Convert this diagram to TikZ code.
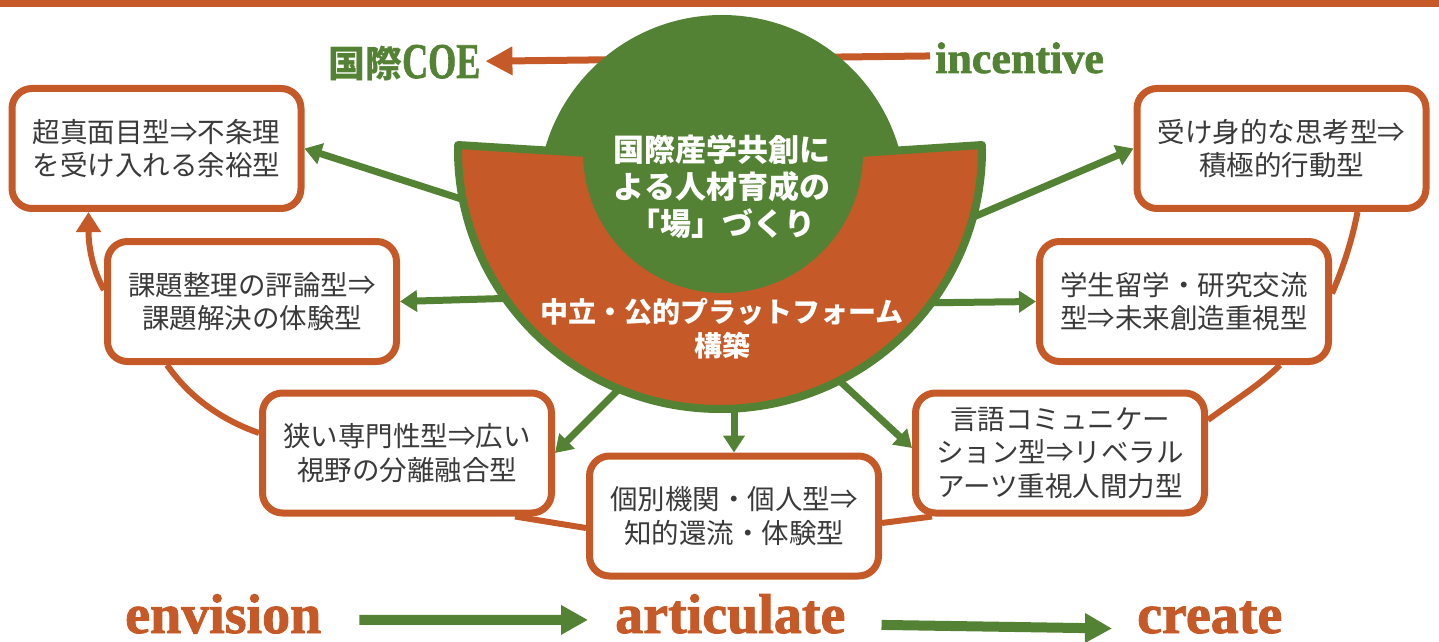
\documentclass[tikz,border=0pt]{standalone}
\usepackage{fontspec}
\newfontfamily\jp{Noto Sans CJK JP}
\newfontfamily\serifb{Liberation Serif}[BoldFeatures={FakeBold=1.6}]
\usetikzlibrary{arrows.meta,calc}
\definecolor{org}{HTML}{C55A28}
\definecolor{grn}{HTML}{548235}
\definecolor{txt}{HTML}{3A3A3A}
\tikzset{
  box/.style={draw=org, line width=7pt, fill=white, rounded corners=20pt,
    minimum width=289pt, minimum height=120pt, inner sep=0pt, align=center,
    text=txt, font=\jp\fontsize{27.5}{33.5}\selectfont},
  garr/.style={draw=grn, line width=7pt, -{Triangle[width=21pt,length=17pt]}},
  oline/.style={draw=org, line width=6pt},
  bigarr/.style={draw=grn, line width=10pt, -{Triangle[width=28pt,length=27pt]}},
  word/.style={anchor=base west, inner sep=0pt, text=org, font=\serifb\bfseries\fontsize{56}{56}\selectfont},
}
\begin{document}
\begin{tikzpicture}[x=1pt,y=1pt]
\useasboundingbox (0,0) rectangle (1439,641);
\fill[org] (0,634) rectangle (1439,641);

% top labels
\node[anchor=base west, inner sep=0pt, text=grn] (coe) at (328,563)
  {{\jp\bfseries\fontsize{37}{37}\selectfont 国際}{\serifb\bfseries\fontsize{50}{50}\selectfont\scalebox{0.72}[1]{COE}}};
\node[anchor=base west, inner sep=0pt, text=grn, font=\serifb\bfseries\fontsize{44}{44}\selectfont] (inc) at (935,568) {incentive};
\draw[org, line width=7pt, -{Triangle[width=27pt,length=27pt]}] ([xshift=-5pt,yshift=2pt]inc.west) -- ([xshift=5pt,yshift=2pt]coe.east);

% boxes
\node[box] (b1) at (156.5,492.5) {超真面目型⇒不条理\\を受け入れる余裕型};
\node[box] (b2) at (1281.5,492.5) {受け身的な思考型⇒\\積極的行動型};
\node[box] (b3) at (252,339.5) {課題整理の評論型⇒\\課題解決の体験型};
\node[box] (b4) at (1184,339.5) {学生留学・研究交流\\型⇒未来創造重視型};
\node[box] (b5) at (407,188) {狭い専門性型⇒広い\\視野の分離融合型};
\node[box] (b6) at (1060,188) {言語コミュニケー\\ション型⇒リベラル\\アーツ重視人間力型};
\node[box] (b7) at (734,125) {個別機関・個人型⇒\\知的還流・体験型};

% green arrows from the centre
\coordinate (g1) at (480,436);
\coordinate (g2) at (955,416);
\coordinate (g3) at (520,343);
\coordinate (g4) at (912,338);
\coordinate (g5) at (630,263);
\coordinate (g6) at (830,269);
\coordinate (g7) at (734,246);
\draw[garr] (g1) -- (b1.east);
\draw[garr] (g2) -- (b2.west);
\draw[garr] (g3) -- (b3.east);
\draw[garr] (g4) -- (b4.west);
\draw[garr] (g5) -- (b5.east);
\draw[garr] (g6) -- ([yshift=5pt]b6.west);
\draw[garr] (g7) -- (b7.north);

% centre
\fill[grn] (722,442) circle (184);
\filldraw[fill=org, draw=grn, line width=8pt, line join=round]
  (720,491) ++(178.9:262 and 259)
  arc[start angle=178.9, end angle=361.1, x radius=262, y radius=259]
  -- (859,488) arc[start angle=0, end angle=-180, radius=136] -- cycle;
\node[text=white, align=center, font=\jp\bfseries\fontsize{31}{37}\selectfont] (ctop) at (722,454)
  {国際産学共創に\\よる人材育成の\\「場」づくり};
\node[text=white, align=center, font=\jp\bfseries\fontsize{28}{34}\selectfont] (cbot) at (722,312)
  {中立・公的プラットフォーム\\構築};

% orange cycle connectors
\draw[oline, -{Triangle[width=24pt,length=20pt]}] ([yshift=11.5pt]b3.west)
  .. controls +(-14,25) and +(0,-28) .. ([xshift=80pt]b1.south west);
\draw[oline] ([xshift=63pt]b3.south west)
  .. controls +(23,-33) and +(-37,13) .. ([yshift=20pt]b5.west);
\draw[oline] ([xshift=-40pt]b5.south east) -- ([yshift=-12pt]b7.west);
\draw[oline] ([yshift=-7pt]b7.east) -- ([xshift=20pt]b6.south west);
\draw[oline] ([yshift=33pt]b6.east)
  .. controls +(24,18) and +(-20,-20) .. ([xshift=244pt]b4.south west);
\draw[oline] ([yshift=8pt]b4.east)
  .. controls +(12,28) and +(-5.5,-28) .. ([xshift=224pt]b2.south west);

% bottom words
\node[word] (env) at (125,8) {envision};
\node[word] (art) at (615,8) {articulate};
\node[word] (cre) at (1137,8) {create};
\draw[bigarr] ([xshift=38pt,yshift=-6pt]env.east) -- ([xshift=-27pt,yshift=-6pt]art.west);
\draw[bigarr] ([xshift=36pt,yshift=-11pt]art.east) -- ([xshift=-25pt,yshift=-11pt]cre.west);
\end{tikzpicture}
\end{document}
